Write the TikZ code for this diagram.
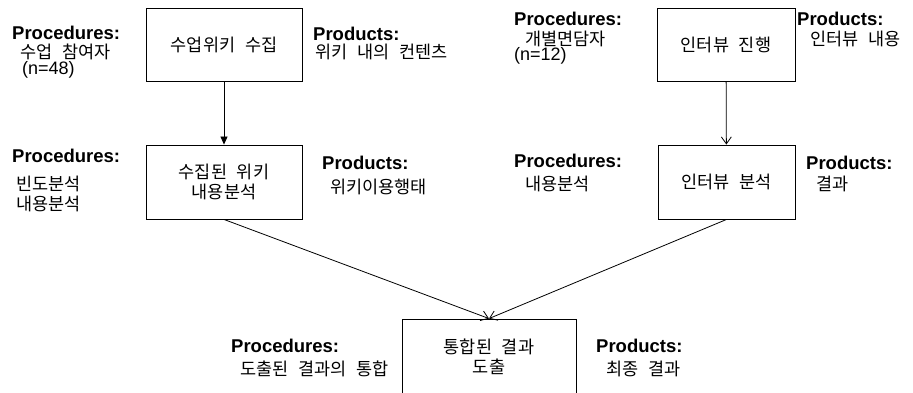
\documentclass[tikz,border=0pt]{standalone}
\usepackage{fontspec}
\setmainfont{Liberation Sans}
\newfontfamily\kr{Noto Sans CJK KR}[WordSpace=2.5]
\usetikzlibrary{arrows.meta}
\tikzset{
  lab/.style={anchor=base west, inner sep=0pt, font=\fontsize{18}{20}\selectfont},
  hd/.style={anchor=base west, inner sep=0pt, font=\bfseries\fontsize{18.5}{20}\selectfont},
  kor/.style={anchor=base west, inner sep=0pt, font=\kr\fontsize{17.5}{19}\selectfont},
  stagebox/.style={draw, line width=0.9pt, inner sep=0pt, align=center,
    font=\kr\fontsize{17.5}{20}\selectfont},
  conn/.style={line width=0.8pt},
  solidtip/.style={-{Triangle[length=8pt,width=7pt]}},
  opentip/.style={-{Straight Barb[length=7pt,width=10pt]}}
}
\begin{document}
\begin{tikzpicture}[x=1pt,y=-1pt]
\useasboundingbox (0,0) rectangle (913,392);
\clip (0,0) rectangle (913,392);
% boxes
\node[stagebox, minimum width=156pt, minimum height=73pt] (b1) at (224,44.5) {수업위키 수집};
\node[stagebox, minimum width=138pt, minimum height=73pt] (b2) at (726,44.5) {인터뷰 진행};
\node[stagebox, minimum width=156pt, minimum height=74pt] (b3) at (224,182) {수집된 위키\\내용분석};
\node[stagebox, minimum width=137pt, minimum height=74pt] (b4) at (726.5,182) {인터뷰 분석};
\node[stagebox, minimum width=174pt, minimum height=76pt] (b5) at (489,357) {통합된 결과\\도출};
% connectors
\draw[conn, solidtip] (b1) -- (b3);
\draw[conn, opentip] (b2) -- (b4);
\draw[conn, opentip] (b3.south) -- (b5.north);
\draw[conn, opentip] (b4.south) -- (b5.north);
% row 1 left
\node[hd] (p1h) at (12,39) {Procedures:};
\node[kor] (p1a) at (20,58.5) {수업 참여자};
\node[lab] (p1b) at (22,74) {(n=48)};
\node[hd] (r1h) at (313,40) {Products:};
\node[kor] (r1a) at (315,58.5) {위키 내의 컨텐츠};
% row 1 right
\node[hd] (p2h) at (514,25.5) {Procedures:};
\node[kor] (p2a) at (525,45) {개별면담자};
\node[lab] (p2b) at (514,60) {(n=12)};
\node[hd] (r2h) at (797,25.5) {Products:};
\node[kor] (r2a) at (810,45) {인터뷰 내용};
% row 2 left
\node[hd] (p3h) at (12,162) {Procedures:};
\node[kor] (p3a) at (16,190) {빈도분석};
\node[kor] (p3b) at (16,210) {내용분석};
\node[hd] (r3h) at (322,169) {Products:};
\node[kor] (r3a) at (330,193) {위키이용행태};
% row 2 right
\node[hd] (p4h) at (514,167) {Procedures:};
\node[kor] (p4a) at (525,190) {내용분석};
\node[hd] (r4h) at (806,169) {Products:};
\node[kor] (r4a) at (816,190) {결과};
% row 3
\node[hd] (p5h) at (231,352) {Procedures:};
\node[kor] (p5a) at (240,375) {도출된 결과의 통합};
\node[hd] (r5h) at (596,352) {Products:};
\node[kor] (r5a) at (606,375) {최종 결과};
\end{tikzpicture}
\end{document}
